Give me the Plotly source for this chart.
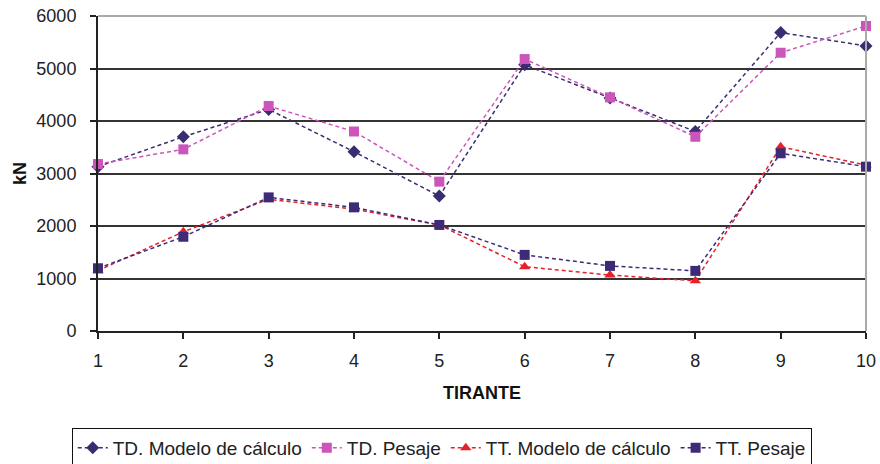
import plotly.graph_objects as go

tirante = [1, 2, 3, 4, 5, 6, 7, 8, 9, 10]
td_modelo = [3130, 3700, 4220, 3415, 2570, 5070, 4440, 3800, 5685, 5430]
td_pesaje = [3180, 3460, 4285, 3800, 2845, 5180, 4450, 3700, 5300, 5810]
tt_modelo = [1150, 1890, 2510, 2320, 2020, 1225, 1065, 955, 3510, 3160]
tt_pesaje = [1195, 1795, 2545, 2355, 2020, 1450, 1240, 1145, 3385, 3130]
y_ticks = [0, 1000, 2000, 3000, 4000, 5000, 6000]

series = [
    ("TD. Modelo de cálculo", td_modelo, "#3a2c70", "diamond", 10),
    ("TD. Pesaje", td_pesaje, "#cc55bb", "square", 10),
    ("TT. Modelo de cálculo", tt_modelo, "#e8202a", "triangle-up", 10),
    ("TT. Pesaje", tt_pesaje, "#3d2b78", "square", 10),
]

fig = go.Figure()
for name, vals, col, sym, sz in series:
    fig.add_trace(go.Scatter(
        x=tirante, y=vals, name=name, mode="lines+markers",
        line=dict(color=col, width=1.5, dash="4px,3px"),
        marker=dict(symbol=sym, size=sz, color=col),
        cliponaxis=False,
    ))

font = "Liberation Sans, Arial, sans-serif"
fig.update_layout(
    width=880, height=464,
    margin=dict(l=98, r=14, t=16, b=133, autoexpand=False),
    paper_bgcolor="white", plot_bgcolor="white",
    font=dict(family=font, size=18, color="#222"),
    showlegend=True,
    legend=dict(
        orientation="h", xref="container", yref="container",
        x=0.502, xanchor="center", y=1 - 428 / 464, yanchor="top",
        bordercolor="#111", borderwidth=1, font=dict(size=19, color="#222"),
        traceorder="normal",
    ),
    xaxis=dict(
        range=[1, 10], tickvals=tirante, showgrid=False, zeroline=False,
        showline=True, linecolor="#222", linewidth=2,
        ticks="outside", ticklen=6, tickcolor="#222", tickwidth=1.5,
        ticklabelstandoff=6,
        title=dict(text="<b>TIRANTE</b>", standoff=17, font=dict(size=18, color="#111")),
    ),
    yaxis=dict(
        range=[0, 6000], tickvals=y_ticks, showgrid=True, gridcolor="#333", gridwidth=1.5,
        zeroline=False, showline=True, linecolor="#222", linewidth=2,
        ticks="outside", ticklen=6, tickcolor="#222", tickwidth=1.5,
        ticklabelstandoff=10,
        title=dict(text="<b>kN</b>", standoff=5, font=dict(size=18, color="#111")),
    ),
    shapes=[dict(type="line", xref="paper", yref="paper", x0=0, x1=1, y0=1, y1=1,
                 line=dict(color="#aaa", width=2)),
            dict(type="line", xref="paper", yref="paper", x0=1, x1=1, y0=0, y1=1,
                 line=dict(color="#aaa", width=2))],
)

fig.write_html("out.html")
